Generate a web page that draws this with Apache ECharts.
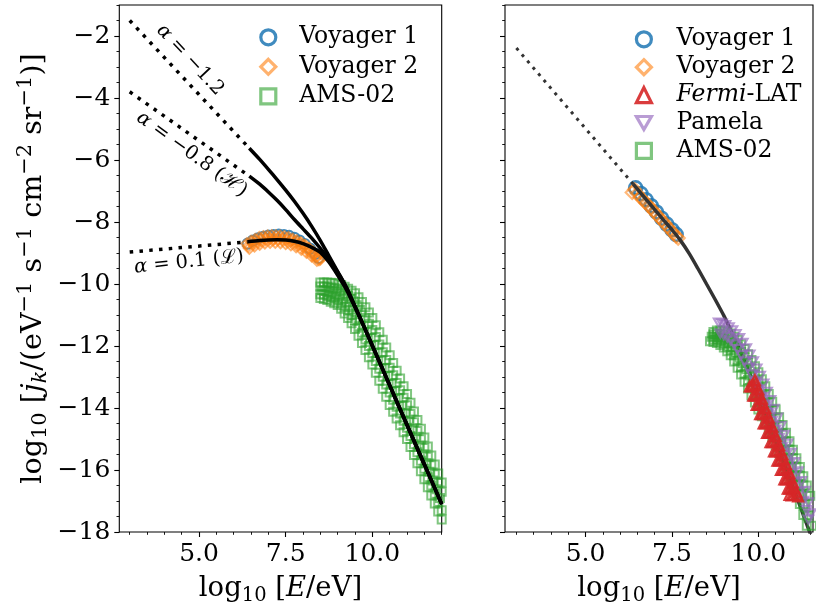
<!DOCTYPE html>
<html><head><meta charset="utf-8">
<script src="https://cdn.jsdelivr.net/npm/echarts@6/dist/echarts.min.js"></script>
<style>html,body{margin:0;padding:0;background:#fff}#c{width:816px;height:611px}</style>
</head><body><div id="c"></div>
<script>
// ---------------- data ----------------
const xMajorTicks = [5, 7.5, 10];
const yMajorTicks = [-18, -16, -14, -12, -10, -8, -6, -4, -2];

// left panel: dotted asymptotes
const leftDotA12 = [[3.0, -1.5], [6.45, -5.62]];
const leftDotA08 = [[3.0, -3.8], [6.45, -6.52]];
const leftDotA01 = [[3.0, -8.97], [6.4, -8.64]];
// left panel: solid model curves
const leftCurveA12 = [[6.45,-5.62],[6.75,-5.98],[7.0,-6.3],[7.25,-6.63],[7.5,-6.97],[7.75,-7.33],[8.0,-7.72],[8.25,-8.14],[8.5,-8.6],[8.75,-9.1],[9.0,-9.6],[9.25,-10.1],[9.5,-10.72],[9.75,-11.35],[10.0,-11.99],[10.5,-13.27],[11.0,-14.55],[11.5,-15.82],[12.0,-17.1]];
const leftCurveA08 = [[6.45,-6.52],[6.75,-6.78],[7.0,-7.03],[7.25,-7.3],[7.5,-7.6],[7.75,-7.92],[8.0,-8.22],[8.25,-8.52],[8.5,-8.85],[8.75,-9.2],[9.0,-9.62],[9.25,-10.12],[9.5,-10.73],[9.75,-11.35],[10.0,-11.99],[10.5,-13.27],[11.0,-14.55],[11.5,-15.82],[12.0,-17.1]];
const leftCurveA01 = [[6.4,-8.64],[6.75,-8.6],[7.0,-8.58],[7.25,-8.57],[7.5,-8.58],[7.75,-8.62],[8.0,-8.7],[8.25,-8.82],[8.5,-8.98],[8.75,-9.3],[9.0,-9.72],[9.25,-10.18],[9.5,-10.76],[9.75,-11.36],[10.0,-11.99],[10.5,-13.27],[11.0,-14.55],[11.5,-15.82],[12.0,-17.1]];
// left panel: measurements
const voyager1Left = [[6.4,-8.7],[6.55,-8.6],[6.7,-8.53],[6.85,-8.48],[7.0,-8.44],[7.15,-8.42],[7.3,-8.41],[7.45,-8.42],[7.6,-8.45],[7.75,-8.51],[7.9,-8.6],[8.05,-8.71],[8.2,-8.86],[8.35,-9.03],[8.45,-9.16]];
const voyager2LeftA = [[6.38,-8.7],[6.5,-8.62],[6.62,-8.56],[6.74,-8.5],[6.86,-8.47],[6.98,-8.45],[7.1,-8.44],[7.22,-8.44],[7.34,-8.45],[7.46,-8.47],[7.58,-8.5],[7.7,-8.55],[7.82,-8.6],[7.94,-8.67],[8.06,-8.75],[8.18,-8.85],[8.3,-8.97],[8.42,-9.1],[8.5,-9.2]];
const voyager2LeftB = [[6.45,-8.85],[6.6,-8.78],[6.75,-8.72],[6.9,-8.68],[7.05,-8.66],[7.2,-8.66],[7.35,-8.67],[7.5,-8.7],[7.65,-8.74],[7.8,-8.8],[7.95,-8.88],[8.1,-8.98],[8.25,-9.1],[8.4,-9.24]];
const voyager2LeftC = [[6.42,-8.78],[6.56,-8.7],[6.68,-8.64],[6.8,-8.59],[6.92,-8.56],[7.04,-8.55],[7.16,-8.55],[7.28,-8.55],[7.4,-8.56],[7.52,-8.59],[7.64,-8.62],[7.76,-8.67],[7.88,-8.73],[8.0,-8.8],[8.12,-8.89],[8.24,-9.0],[8.36,-9.12],[8.46,-9.22]];
const amsLeftUpper = [[8.5,-9.95],[8.6,-9.95],[8.7,-9.95],[8.8,-9.96],[8.9,-9.97],[9.0,-9.99],[9.1,-10.03],[9.2,-10.09],[9.3,-10.15],[9.4,-10.22],[9.5,-10.3],[9.6,-10.43],[9.7,-10.58],[9.8,-10.75],[9.9,-10.92],[10.0,-11.1],[10.1,-11.33],[10.2,-11.56],[10.3,-11.8],[10.4,-12.05],[10.5,-12.3],[10.6,-12.55],[10.7,-12.8],[10.8,-13.05],[10.9,-13.3],[11.0,-13.55],[11.1,-13.83],[11.2,-14.11],[11.3,-14.39],[11.4,-14.67],[11.5,-14.95],[11.6,-15.24],[11.7,-15.53],[11.8,-15.82],[11.9,-16.11],[12.0,-16.4]];
const amsLeftUpperMid = [[8.5,-10.08],[8.6,-10.08],[8.7,-10.09],[8.8,-10.11],[8.9,-10.13],[9.0,-10.16],[9.1,-10.22],[9.2,-10.31],[9.3,-10.39],[9.4,-10.48],[9.5,-10.59],[9.6,-10.74],[9.7,-10.91],[9.8,-11.1],[9.9,-11.28],[10.0,-11.48],[10.1,-11.71],[10.2,-11.95],[10.3,-12.2],[10.4,-12.45],[10.5,-12.7],[10.6,-12.94],[10.7,-13.19],[10.8,-13.43],[10.9,-13.67],[11.0,-13.91],[11.1,-14.19],[11.2,-14.46],[11.3,-14.74],[11.4,-15.01],[11.5,-15.29],[11.6,-15.57],[11.7,-15.85],[11.8,-16.14],[11.9,-16.42],[12.0,-16.7]];
const amsLeftMid = [[8.55,-10.2],[8.65,-10.22],[8.75,-10.25],[8.85,-10.28],[8.95,-10.32],[9.05,-10.38],[9.15,-10.47],[9.25,-10.57],[9.35,-10.69],[9.45,-10.82],[9.55,-10.97],[9.65,-11.15],[9.75,-11.34],[9.85,-11.54],[9.95,-11.74],[10.05,-11.97],[10.15,-12.22],[10.25,-12.47],[10.35,-12.72],[10.45,-12.97],[10.55,-13.22],[10.65,-13.45],[10.75,-13.68],[10.85,-13.92],[10.95,-14.15],[11.05,-14.4],[11.15,-14.68],[11.25,-14.95],[11.35,-15.22],[11.45,-15.5],[11.55,-15.78],[11.65,-16.06],[11.75,-16.34],[11.85,-16.62],[11.95,-16.9]];
const amsLeftMidLower = [[8.5,-10.33],[8.6,-10.35],[8.7,-10.38],[8.8,-10.42],[8.9,-10.46],[9.0,-10.51],[9.1,-10.61],[9.2,-10.74],[9.3,-10.86],[9.4,-11.01],[9.5,-11.16],[9.6,-11.36],[9.7,-11.57],[9.8,-11.79],[9.9,-12.0],[10.0,-12.23],[10.1,-12.48],[10.2,-12.73],[10.3,-12.99],[10.4,-13.24],[10.5,-13.5],[10.6,-13.73],[10.7,-13.96],[10.8,-14.18],[10.9,-14.41],[11.0,-14.64],[11.1,-14.9],[11.2,-15.17],[11.3,-15.43],[11.4,-15.7],[11.5,-15.96],[11.6,-16.23],[11.7,-16.5],[11.8,-16.77],[11.9,-17.03],[12.0,-17.3]];
const amsLeftLower = [[8.5,-10.45],[8.6,-10.48],[8.7,-10.52],[8.8,-10.57],[8.9,-10.62],[9.0,-10.68],[9.1,-10.8],[9.2,-10.95],[9.3,-11.1],[9.4,-11.27],[9.5,-11.45],[9.6,-11.67],[9.7,-11.9],[9.8,-12.13],[9.9,-12.36],[10.0,-12.6],[10.1,-12.86],[10.2,-13.12],[10.3,-13.38],[10.4,-13.64],[10.5,-13.9],[10.6,-14.12],[10.7,-14.34],[10.8,-14.56],[10.9,-14.78],[11.0,-15.0],[11.1,-15.26],[11.2,-15.52],[11.3,-15.78],[11.4,-16.04],[11.5,-16.3],[11.6,-16.56],[11.7,-16.82],[11.8,-17.08],[11.9,-17.34],[12.0,-17.6]];

// right panel: model
const rightDot = [[3.0, -2.39], [6.38, -6.78]];
const rightCurve = [[6.38,-6.78],[6.75,-7.27],[7.0,-7.6],[7.25,-7.93],[7.5,-8.25],[7.75,-8.6],[8.0,-9.02],[8.25,-9.5],[8.5,-10.0],[8.75,-10.5],[9.0,-11.02],[9.25,-11.6],[9.5,-12.22],[9.75,-12.88],[10.0,-13.58],[10.5,-15.05],[11.0,-16.55],[11.3,-17.45],[11.6,-18.35]];
// right panel: measurements
const voyager1Right = [[6.45,-6.9],[6.6,-7.08],[6.75,-7.28],[6.9,-7.48],[7.05,-7.68],[7.2,-7.88],[7.35,-8.07],[7.5,-8.25],[7.62,-8.4]];
const voyager2Right = [[6.35,-7.05],[6.42,-6.95],[6.5,-7.08],[6.58,-7.2],[6.66,-7.28],[6.74,-7.38],[6.82,-7.47],[6.9,-7.56],[6.98,-7.66],[7.06,-7.76],[7.14,-7.86],[7.22,-7.96],[7.3,-8.05],[7.38,-8.16],[7.46,-8.26],[7.54,-8.36],[7.62,-8.46],[7.68,-8.52]];
const fermiRightA = [[9.75,-13.3],[9.85,-13.6],[9.95,-13.9],[10.05,-14.2],[10.15,-14.5],[10.25,-14.8],[10.35,-15.1],[10.45,-15.4],[10.55,-15.7],[10.65,-16.0],[10.75,-16.3],[10.85,-16.6],[10.9,-16.8]];
const fermiRightB = [[9.85,-13.25],[9.95,-13.55],[10.05,-13.85],[10.15,-14.15],[10.25,-14.45],[10.35,-14.75],[10.45,-15.05],[10.55,-15.35],[10.65,-15.65],[10.75,-15.95],[10.85,-16.25],[10.95,-16.55],[11.02,-16.8]];
const fermiRightC = [[9.9,-13.1],[10.0,-13.4],[10.1,-13.7],[10.2,-14.0],[10.3,-14.3],[10.4,-14.6],[10.5,-14.9],[10.6,-15.2],[10.7,-15.5],[10.8,-15.8],[10.9,-16.1],[11.0,-16.4],[11.1,-16.7],[11.15,-16.85]];
const fermiRightD = [[9.8,-13.3],[9.9,-13.6],[10.0,-13.9],[10.1,-14.2],[10.2,-14.5],[10.3,-14.8],[10.4,-15.1],[10.5,-15.4],[10.6,-15.7],[10.7,-16.0],[10.8,-16.3],[10.9,-16.6],[10.96,-16.82]];
const fermiRightE = [[9.92,-13.25],[10.02,-13.55],[10.12,-13.85],[10.22,-14.15],[10.32,-14.45],[10.42,-14.75],[10.52,-15.05],[10.62,-15.35],[10.72,-15.65],[10.82,-15.95],[10.92,-16.25],[11.02,-16.55],[11.1,-16.8]];
const pamelaRightA = [[8.85,-11.25],[8.95,-11.28],[9.05,-11.33],[9.15,-11.4],[9.25,-11.5],[9.35,-11.62],[9.45,-11.75],[9.55,-11.9],[9.65,-12.08],[9.75,-12.28],[9.85,-12.5],[9.95,-12.73],[10.05,-12.97],[10.15,-13.22],[10.25,-13.48],[10.35,-13.75],[10.45,-14.03],[10.55,-14.31],[10.65,-14.59],[10.75,-14.87],[10.85,-15.15],[10.95,-15.45],[11.05,-15.75],[11.15,-16.05],[11.25,-16.36],[11.35,-16.68],[11.45,-17.05],[11.52,-17.4]];
const pamelaRightB = [[8.9,-11.6],[9.0,-11.65],[9.1,-11.72],[9.2,-11.82],[9.3,-11.95],[9.4,-12.1],[9.5,-12.3],[9.6,-12.5],[9.7,-12.7],[9.8,-12.92],[9.9,-13.15],[10.0,-13.4],[10.1,-13.65],[10.2,-13.9],[10.3,-14.15],[10.4,-14.42],[10.5,-14.7],[10.6,-14.97],[10.7,-15.25],[10.8,-15.52],[10.9,-15.8],[11.0,-16.1],[11.1,-16.4],[11.2,-16.7],[11.3,-17.0],[11.4,-17.3],[11.45,-17.6]];
const amsRightUpper = [[8.7,-11.55],[8.8,-11.5],[8.9,-11.5],[9.0,-11.5],[9.1,-11.55],[9.2,-11.6],[9.3,-11.7],[9.4,-11.8],[9.5,-11.95],[9.6,-12.1],[9.7,-12.27],[9.8,-12.45],[9.9,-12.65],[10.0,-12.85],[10.1,-13.07],[10.2,-13.3],[10.3,-13.55],[10.4,-13.8],[10.5,-14.05],[10.6,-14.3],[10.7,-14.55],[10.8,-14.8],[10.9,-15.07],[11.0,-15.35],[11.1,-15.62],[11.2,-15.9],[11.3,-16.2],[11.4,-16.5],[11.5,-16.83],[11.6,-17.15]];
const amsRightUpperMid = [[8.7,-11.63],[8.8,-11.6],[8.9,-11.62],[9.0,-11.64],[9.1,-11.71],[9.2,-11.78],[9.3,-11.9],[9.4,-12.03],[9.5,-12.19],[9.6,-12.36],[9.7,-12.55],[9.8,-12.74],[9.9,-12.94],[10.0,-13.15],[10.1,-13.37],[10.2,-13.6],[10.3,-13.84],[10.4,-14.09],[10.5,-14.34],[10.6,-14.59],[10.7,-14.84],[10.8,-15.09],[10.9,-15.36],[11.0,-15.64],[11.1,-15.92],[11.2,-16.2],[11.3,-16.51],[11.4,-16.83]];
const amsRightMid = [[8.65,-11.7],[8.75,-11.7],[8.85,-11.72],[8.95,-11.76],[9.05,-11.83],[9.15,-11.92],[9.25,-12.05],[9.35,-12.2],[9.45,-12.37],[9.55,-12.55],[9.65,-12.75],[9.75,-12.95],[9.85,-13.17],[9.95,-13.4],[10.05,-13.63],[10.15,-13.87],[10.25,-14.12],[10.35,-14.37],[10.45,-14.62],[10.55,-14.87],[10.65,-15.12],[10.75,-15.37],[10.85,-15.63],[10.95,-15.9],[11.05,-16.18],[11.15,-16.47],[11.25,-16.77],[11.35,-17.1],[11.45,-17.45],[11.55,-17.8]];
const amsRightMidLower = [[8.7,-11.79],[8.8,-11.8],[8.9,-11.85],[9.0,-11.91],[9.1,-12.02],[9.2,-12.13],[9.3,-12.3],[9.4,-12.48],[9.5,-12.68],[9.6,-12.89],[9.7,-13.1],[9.8,-13.31],[9.9,-13.53],[10.0,-13.75],[10.1,-13.97],[10.2,-14.2],[10.3,-14.43],[10.4,-14.66],[10.5,-14.91],[10.6,-15.16],[10.7,-15.41],[10.8,-15.66],[10.9,-15.93],[11.0,-16.21],[11.1,-16.5],[11.2,-16.8],[11.3,-17.14],[11.4,-17.48]];
const amsRightLower = [[8.6,-11.85],[8.7,-11.87],[8.8,-11.9],[8.9,-11.97],[9.0,-12.05],[9.1,-12.17],[9.2,-12.3],[9.3,-12.5],[9.4,-12.7],[9.5,-12.92],[9.6,-13.15],[9.7,-13.37],[9.8,-13.6],[9.9,-13.82],[10.0,-14.05],[10.1,-14.27],[10.2,-14.5],[10.3,-14.72],[10.4,-14.95],[10.5,-15.2],[10.6,-15.45],[10.7,-15.7],[10.8,-15.95],[10.9,-16.22],[11.0,-16.5],[11.1,-16.8],[11.2,-17.1],[11.3,-17.45],[11.4,-17.8]];

const annotationTexts = ['{i|α} = −1.2', '{i|α} = −0.8 (ℋ)', '{i|α} = 0.1 (ℒ)'];

// ---------------- layout / style ----------------
const annotationPlacement = [
  {x: 4.74, y: -2.77, angle: -47},
  {x: 4.79, y: -5.82, angle: -36},
  {x: 4.71, y: -9.29, angle: 6}
];
const FONT = 'DejaVu Serif';
const C = {v1:'#1f77b4', v2:'#ff7f0e', fermi:'#d62728', pamela:'#9467bd', ams:'#2ca02c'};
const DOWN_TRI = 'path://M0,0L10,0L5,8.66Z';
const TICK_FS = 25;

function range(a, b, s) { const r = []; for (let v = a; v <= b + 1e-9; v += s) r.push(+v.toFixed(2)); return r; }
const xMinorLeft = range(3, 12, 0.5);
const xMinorRight = range(3, 11.5, 0.5);
const yMinor = range(-18, -1, 0.5);

const gridL = {left: 119.3, top: 5, width: 322.4, height: 529.4};
const gridR = {left: 505, top: 5, width: 308, height: 529.4};

function nameRich(fs, ss) {
  return {
    s: {fontSize: ss, fontFamily: FONT, verticalAlign: 'bottom', lineHeight: 14},
    p: {fontSize: ss, fontFamily: FONT, verticalAlign: 'top', lineHeight: 14},
    i: {fontSize: fs, fontFamily: FONT, fontStyle: 'italic'},
    ik: {fontSize: ss, fontFamily: FONT, fontStyle: 'italic', verticalAlign: 'bottom', lineHeight: 14}
  };
}

function xAxisPair(gi, min, max, minor) {
  const base = {type: 'value', gridIndex: gi, min, max, position: 'bottom',
    axisLine: {show: false, onZero: false}, splitLine: {show: false}};
  return [
    Object.assign({}, base, {
      axisTick: {show: true, length: 5, lineStyle: {color: '#000', width: 1.1}, customValues: xMajorTicks},
      axisLabel: {show: true, customValues: xMajorTicks, formatter: v => v.toFixed(1),
        fontSize: TICK_FS, fontFamily: FONT, color: '#000', margin: 10},
      name: 'log{s|10} [{i|E}/eV]', nameLocation: 'middle', nameGap: 40,
      nameTextStyle: {fontSize: 27.5, fontFamily: FONT, color: '#000', lineHeight: 34, rich: nameRich(27.5, 19.5)}
    }),
    Object.assign({}, base, {
      axisTick: {show: true, length: 2.8, lineStyle: {color: '#000', width: 0.9}, customValues: minor},
      axisLabel: {show: false}
    })
  ];
}
function yAxisPair(gi, showLabels) {
  const base = {type: 'value', gridIndex: gi, min: -18, max: -1, position: 'left',
    axisLine: {show: false, onZero: false}, splitLine: {show: false}};
  const major = Object.assign({}, base, {
    axisTick: {show: true, length: 5, lineStyle: {color: '#000', width: 1.1}, customValues: yMajorTicks},
    axisLabel: {show: showLabels, customValues: yMajorTicks,
      formatter: v => (v < 0 ? '\u2212' : '') + Math.abs(v),
      fontSize: TICK_FS, fontFamily: FONT, color: '#000', margin: 9}
  });
  if (showLabels) {
    Object.assign(major, {
      name: 'log{s|10} [{i|j}{ik|k}/(eV{p|\u22121} s{p|\u22121} cm{p|\u22122} sr{p|\u22121})]',
      nameLocation: 'middle', nameGap: 68, nameRotate: 90,
      nameTextStyle: {fontSize: 28.5, fontFamily: FONT, color: '#000', lineHeight: 36, rich: nameRich(28.5, 21)}
    });
  }
  return [major, Object.assign({}, base, {
    axisTick: {show: true, length: 2.8, lineStyle: {color: '#000', width: 0.9}, customValues: yMinor},
    axisLabel: {show: false}
  })];
}

function scatter(name, data, xi, yi, symbol, color, opacity, size, bw, z) {
  return {type: 'scatter', name, data, xAxisIndex: xi, yAxisIndex: yi, symbol, symbolSize: size,
    symbolKeepAspect: true, clip: true, z, silent: true,
    itemStyle: {color: 'rgba(255,255,255,0)', borderColor: color, borderWidth: bw, opacity}};
}
function line(data, xi, yi, color, width, dotted, z) {
  return {type: 'line', data, xAxisIndex: xi, yAxisIndex: yi, showSymbol: false, symbol: 'none',
    smooth: dotted ? false : 0.25, clip: true, z, silent: true,
    lineStyle: {color, width, type: dotted ? [width, width * 1.8] : 'solid', cap: 'butt'}};
}

const series = [
  // left panel
  scatter('Voyager 1', voyager1Left, 0, 0, 'circle', C.v1, 0.85, 10, 2.2, 2),
  scatter('Voyager 2', voyager2LeftA.concat(voyager2LeftC, voyager2LeftB), 0, 0, 'diamond', C.v2, 0.6, 11, 2, 2),
  scatter('AMS-02', amsLeftUpper.concat(amsLeftUpperMid, amsLeftMid, amsLeftMidLower, amsLeftLower), 0, 0, 'rect', C.ams, 0.6, 8, 2, 2),
  line(leftDotA12, 0, 0, '#000', 3.5, true, 3),
  line(leftDotA08, 0, 0, '#000', 3.5, true, 3),
  line(leftDotA01, 0, 0, '#000', 3.5, true, 3),
  line(leftCurveA12, 0, 0, '#000', 3.5, false, 3),
  line(leftCurveA08, 0, 0, '#000', 3.5, false, 3),
  line(leftCurveA01, 0, 0, '#000', 3.5, false, 3),
  // right panel
  scatter('Voyager 1', voyager1Right, 2, 2, 'circle', C.v1, 0.85, 13, 2.6, 2),
  scatter('Voyager 2', voyager2Right, 2, 2, 'diamond', C.v2, 0.55, 13, 2.2, 2),
  line(rightDot, 2, 2, '#333', 3, true, 3),
  line(rightCurve, 2, 2, '#333', 3.5, false, 3),
  scatter('AMS-02', amsRightUpper.concat(amsRightUpperMid, amsRightMid, amsRightMidLower, amsRightLower), 2, 2, 'rect', C.ams, 0.6, 8, 2, 4),
  scatter('Pamela', pamelaRightA.concat(pamelaRightB), 2, 2, DOWN_TRI, C.pamela, 0.65, 9.5, 2.2, 5),
  scatter('Fermi-LAT', fermiRightA.concat(fermiRightB, fermiRightC, fermiRightD, fermiRightE), 2, 2, 'triangle', C.fermi, 0.9, 10, 2.2, 6)
];

const legendCommon = {orient: 'vertical', padding: 0, itemWidth: 15, itemHeight: 15, selectedMode: false,
  itemStyle: {borderWidth: 3.2},
  textStyle: {fontSize: 23.5, fontFamily: FONT, color: '#000', lineHeight: 24,
    rich: {i: {fontSize: 23.5, fontFamily: FONT, fontStyle: 'italic', color: '#000'}}},
  formatter: n => n === 'Fermi-LAT' ? '{i|Fermi}-LAT' : n};

const option = {
  backgroundColor: '#fff',
  animation: false,
  grid: [
    Object.assign({show: true, borderColor: '#000', borderWidth: 1.1, backgroundColor: 'rgba(0,0,0,0)'}, gridL),
    Object.assign({show: true, borderColor: '#000', borderWidth: 1.1, backgroundColor: 'rgba(0,0,0,0)'}, gridR)
  ],
  xAxis: xAxisPair(0, 2.7, 12.0, xMinorLeft).concat(xAxisPair(1, 2.67, 11.58, xMinorRight)),
  yAxis: yAxisPair(0, true).concat(yAxisPair(1, false)),
  legend: [
    Object.assign({}, legendCommon, {data: ['Voyager 1', 'Voyager 2', 'AMS-02'],
      left: 259.2, top: 25.3, itemGap: 5.5,
      textStyle: Object.assign({}, legendCommon.textStyle, {padding: [0, 0, 0, 18.5]})}),
    Object.assign({}, legendCommon, {data: ['Voyager 1', 'Voyager 2', 'Fermi-LAT', 'Pamela', 'AMS-02'],
      left: 634.8, top: 27.3, itemGap: 3.9,
      textStyle: Object.assign({}, legendCommon.textStyle, {padding: [0, 0, 0, 20.2]})})
  ],
  series
};

const chart = echarts.init(document.getElementById('c'), null, {renderer: 'canvas', width: 816, height: 611});
chart.setOption(option);

const graphics = annotationTexts.map((t, k) => {
  const a = annotationPlacement[k];
  const p = chart.convertToPixel({xAxisIndex: 0, yAxisIndex: 0}, [a.x, a.y]);
  return {type: 'text', x: p[0], y: p[1], rotation: a.angle * Math.PI / 180, z: 20, silent: true,
    style: {text: t, fontSize: 19.5, fontFamily: FONT, fill: '#000', align: 'center', verticalAlign: 'middle',
      rich: {i: {fontSize: 19.5, fontFamily: FONT, fontStyle: 'italic', fill: '#000'}}}};
});
chart.setOption({graphic: graphics});
</script>
</body></html>
